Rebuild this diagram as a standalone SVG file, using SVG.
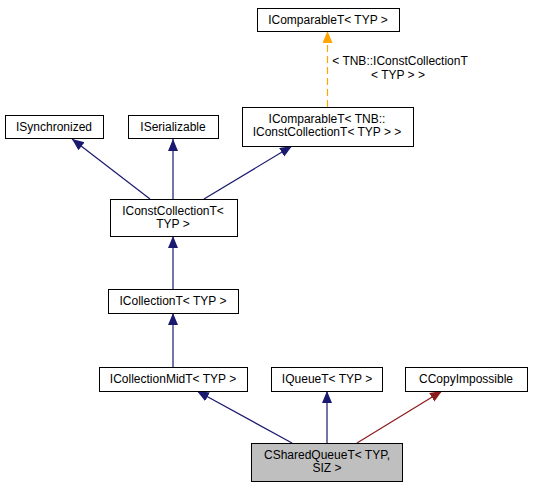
<svg xmlns="http://www.w3.org/2000/svg" width="533" height="488" viewBox="0 0 533 488">
<style>
.n rect{fill:#fff;stroke:#000;stroke-width:1}
.n.cur rect{fill:#bfbfbf}
text{font-family:"Liberation Sans",Arial,sans-serif;font-size:12px;fill:#000;text-anchor:middle}
.e{fill:none;stroke-width:1.2}
.b{stroke:#191970}
.r{stroke:#8b1a1a}
.o{stroke:#ffa500;stroke-dasharray:7,4}
</style>
<defs>
<marker id="mb" markerUnits="userSpaceOnUse" markerWidth="14" markerHeight="12" refX="12" refY="5" orient="auto"><path d="M0,0 L12,5 L0,10 z" fill="#191970"/></marker>
<marker id="mr" markerUnits="userSpaceOnUse" markerWidth="14" markerHeight="12" refX="12" refY="5" orient="auto"><path d="M0,0 L12,5 L0,10 z" fill="#8b1a1a"/></marker>
<marker id="mo" markerUnits="userSpaceOnUse" markerWidth="14" markerHeight="12" refX="12" refY="5" orient="auto"><path d="M0,0 L12,5 L0,10 z" fill="#ffa500"/></marker>
</defs>
<rect width="533" height="488" fill="#fff"/>
<g id="edges">
<path class="e o" d="M327.5,107 L327.5,31" marker-end="url(#mo)"/>
<path class="e b" d="M150,199 L72,139" marker-end="url(#mb)"/>
<path class="e b" d="M173,199 L173,139" marker-end="url(#mb)"/>
<path class="e b" d="M204,199 L292,146" marker-end="url(#mb)"/>
<path class="e b" d="M173,289 L173,236" marker-end="url(#mb)"/>
<path class="e b" d="M173,367 L173,313" marker-end="url(#mb)"/>
<path class="e b" d="M292,443 L197,391" marker-end="url(#mb)"/>
<path class="e b" d="M327,443 L327,391" marker-end="url(#mb)"/>
<path class="e r" d="M357,443 L442,391" marker-end="url(#mr)"/>
<text x="400" y="65">&lt; TNB::IConstCollectionT</text>
<text x="398" y="79">&lt; TYP &gt; &gt;</text>
</g>
<g id="IComparableT" class="n"><rect x="257.5" y="8.5" width="142" height="23"/><text x="328" y="24">IComparableT&lt; TYP &gt;</text></g>
<g id="IComparableT_TNB" class="n"><rect x="242.5" y="107.5" width="171" height="39"/><text x="327" y="123">IComparableT&lt; TNB::</text><text x="327" y="136">IConstCollectionT&lt; TYP &gt; &gt;</text></g>
<g id="ISynchronized" class="n"><rect x="5.5" y="115.5" width="98" height="23"/><text x="54" y="131">ISynchronized</text></g>
<g id="ISerializable" class="n"><rect x="128.5" y="115.5" width="90" height="23"/><text x="173" y="131">ISerializable</text></g>
<g id="IConstCollectionT" class="n"><rect x="110.5" y="199.5" width="127" height="37"/><text x="173" y="215">IConstCollectionT&lt;</text><text x="173" y="228">TYP &gt;</text></g>
<g id="ICollectionT" class="n"><rect x="108.5" y="289.5" width="130" height="24"/><text x="173" y="305">ICollectionT&lt; TYP &gt;</text></g>
<g id="ICollectionMidT" class="n"><rect x="99.5" y="367.5" width="148" height="24"/><text x="173" y="383">ICollectionMidT&lt; TYP &gt;</text></g>
<g id="IQueueT" class="n"><rect x="271.5" y="367.5" width="111" height="24"/><text x="327" y="383">IQueueT&lt; TYP &gt;</text></g>
<g id="CCopyImpossible" class="n"><rect x="405.5" y="367.5" width="122" height="24"/><text x="466" y="383">CCopyImpossible</text></g>
<g id="CSharedQueueT" class="n cur"><rect x="251.5" y="443.5" width="151" height="38"/><text x="327" y="459">CSharedQueueT&lt; TYP,</text><text x="327" y="472">SIZ &gt;</text></g>
</svg>
